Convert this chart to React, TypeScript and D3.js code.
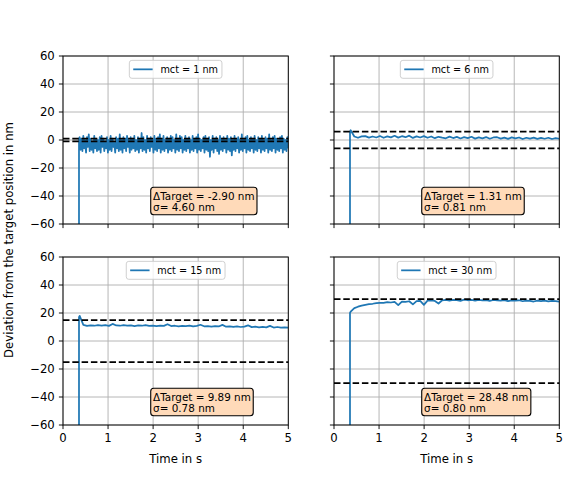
import { useRef, useEffect } from 'react';
import * as d3 from 'd3';

// Sample values, one list per panel (nm)
const mct1Values = [
  2, -7, 1, -8, 3, -6, 0, -9, 2, -5, 4, -8, 1, -7, -1, -9, 3, -6, 1, -8,
  0, -7, 2, -9, 3, -5, 1, -8, -1, -6, 2, -9, 0, -7, 3, -8, 1, -5, -2, -9,
  2, -6, 1, -8, 4, -7, 0, -9, 2, -6, 1, -8, 3, -5, 0, -9, 2, -7, 1, -6,
  3, -8, 0, -7, 2, -9, 1, -6, 5, -8, 2, -7, 0, -9, 3, -6, 1, -8, 2, -5,
  0, -9, 3, -7, 1, -8, 2, -6, 4, -9, 1, -7, 3, -8, 0, -6, 2, -9, 1, -7,
  3, -8, 2, -6, 0, -9, 4, -7, 1, -8, 3, -6, 2, -9, 0, -7, 3, -8, 1, -6,
  2, -9, 0, -7, 3, -8, 1, -6, 2, -9, 4, -7, 1, -8, 0, -6, 2, -9, 3, -7,
  1, -8, 2, -12, 0, -7, 3, -9, 1, -6, 2, -8, 0, -10, 3, -7, 1, -8, 2, -6,
  0, -9, 3, -7, 1, -8, 2, -11, 0, -7, 3, -8, 1, -6, 2, -9, 0, -7, 4, -8,
  1, -6, 2, -9, 3, -7, 0, -8, 2, -6, 1, -9, 3, -7, 0, -8, 2, -6, 1, -9,
  3, -7, 0, -8, 2, -6, 1, -9, 4, -7, 0, -8, 2, -6, 3, -9, 1, -7, 0, -8,
  2, -6, 3, -9, 1, -7, 0, -8, 2, -6,
];
const mct6Values = [
  7, 2.5, 1.6, 2.6, 2.8, 1.7, 2.5, 1.8, 2.9, 1.6,
  2.6, 1.9, 3.0, 1.7, 2.7, 2.0, 3.1, 1.5, 2.6, 1.8,
  2.8, 1.6, 2.5, 1.3, 2.3, 1.7, 1.2, 2.4, 1.4, 2.2,
  1.1, 2.0, 1.3, 2.3, 1.0, 1.9, 1.2, 2.1, 0.9, 1.8,
  2.0, 1.0, 1.7, 0.8, 1.9, 1.1, 1.8, 0.7, 1.6, 1.0,
  1.7, 0.8, 1.5, 0.9, 1.6, 0.7, 1.4, 0.9,
];
const mct15Values = [
  18, 11.5, 10.8, 11.2, 10.9, 11.4, 11.0, 11.3, 10.8, 12.2,
  11.1, 10.9, 11.3, 11.0, 11.2, 10.7, 11.1, 10.9, 11.4, 10.8,
  11.0, 10.6, 11.0, 10.8, 12.0, 10.7, 10.9, 10.5, 10.8, 10.6,
  11.0, 10.4, 10.8, 11.6, 10.5, 10.7, 10.3, 10.6, 10.4, 11.5,
  10.2, 10.5, 10.1, 10.4, 10.0, 10.3, 11.2, 9.9, 10.2, 9.8,
  10.1, 9.7, 10.8, 9.6, 10.0, 9.5, 9.8, 9.6,
];
const mct30Values = [
  21, 23.5, 24.5, 25.3, 25.8, 26.3, 26.6, 27.0, 27.3, 27.2,
  27.7, 27.5, 28.0, 25.6, 28.2, 27.9, 28.4, 26.2, 28.5, 28.7,
  25.8, 28.8, 29.0, 28.6, 26.8, 29.1, 29.3, 28.9, 29.4, 29.2,
  28.7, 29.5, 29.1, 29.3, 28.8, 29.4, 29.0, 29.2, 28.6, 29.3,
  29.1, 28.9, 29.2, 28.5, 29.0, 28.8, 29.1, 28.4, 28.9, 28.7,
  28.2, 28.8, 28.5, 28.9, 28.3, 28.6, 28.4, 28.2,
];

const panelValues = [mct1Values, mct6Values, mct15Values, mct30Values];
const legendLabels = ['mct = 1 nm', 'mct = 6 nm', 'mct = 15 nm', 'mct = 30 nm'];
const bandLimits = [1, 6, 15, 30];
const deltaTargets = ['-2.90', '1.31', '9.89', '28.48'];
const sigmas = ['4.60', '0.81', '0.78', '0.80'];

const onsetTime = 0.355; // step starts here, trace comes up from below -60
const firstSample = 0.37;
const endTime = 5;

const xTicks = [0, 1, 2, 3, 4, 5];
const yTicks = [-60, -40, -20, 0, 20, 40, 60];

const FONT = 'DejaVu Sans, sans-serif';
const BLUE = '#1f77b4';

export default function App() {
  const svgRef = useRef<SVGSVGElement>(null);

  useEffect(() => {
    if (!svgRef.current) return;
    document.body.style.margin = '0';
    const svg = d3.select(svgRef.current);
    svg.selectAll('*').remove();

    const pw = 225.3;
    const ph = 168;
    const panels = [
      { left: 63, top: 56 },
      { left: 334, top: 56 },
      { left: 63, top: 257 },
      { left: 334, top: 257 },
    ];

    const tickFs = 11.7;
    const smallFs = 9.7;
    const annFs = 10.4;

    const defs = svg.append('defs');

    panels.forEach((p, i) => {
      const x = d3.scaleLinear().domain([0, 5]).range([p.left, p.left + pw]);
      const y = d3.scaleLinear().domain([-60, 60]).range([p.top + ph, p.top]);
      const isBottom = i >= 2;
      const isLeft = i % 2 === 0;

      defs.append('clipPath').attr('id', `clip${i}`)
        .append('rect').attr('x', p.left).attr('y', p.top).attr('width', pw).attr('height', ph);

      const g = svg.append('g');

      // grid
      g.selectAll('.gx').data(xTicks).enter().append('line')
        .attr('x1', d => x(d)).attr('x2', d => x(d))
        .attr('y1', p.top).attr('y2', p.top + ph)
        .attr('stroke', '#b0b0b0').attr('stroke-width', 0.93);
      g.selectAll('.gy').data(yTicks).enter().append('line')
        .attr('y1', d => y(d)).attr('y2', d => y(d))
        .attr('x1', p.left).attr('x2', p.left + pw)
        .attr('stroke', '#b0b0b0').attr('stroke-width', 0.93);

      // data trace
      const vals = panelValues[i];
      const dt = (endTime - firstSample) / (vals.length - 1);
      const pts: [number, number][] = [[onsetTime, -70], [onsetTime, vals[0] - 1]];
      vals.forEach((v, k) => pts.push([firstSample + k * dt, v]));
      const line = d3.line<[number, number]>().x(d => x(d[0])).y(d => y(d[1]));
      g.append('path')
        .attr('d', line(pts))
        .attr('fill', 'none')
        .attr('stroke', BLUE)
        .attr('stroke-width', 1.75)
        .attr('stroke-linejoin', 'round')
        .attr('clip-path', `url(#clip${i})`);

      // tolerance band
      [bandLimits[i], -bandLimits[i]].forEach(b => {
        g.append('line')
          .attr('x1', p.left).attr('x2', p.left + pw)
          .attr('y1', y(b)).attr('y2', y(b))
          .attr('stroke', '#000').attr('stroke-width', 1.75)
          .attr('stroke-dasharray', '6.5,2.8');
      });

      // spines
      g.append('rect')
        .attr('x', p.left).attr('y', p.top).attr('width', pw).attr('height', ph)
        .attr('fill', 'none').attr('stroke', '#000').attr('stroke-width', 0.93);

      // ticks
      g.selectAll('.tx').data(xTicks).enter().append('line')
        .attr('x1', d => x(d)).attr('x2', d => x(d))
        .attr('y1', p.top + ph).attr('y2', p.top + ph + 4.1)
        .attr('stroke', '#000').attr('stroke-width', 0.93);
      g.selectAll('.ty').data(yTicks).enter().append('line')
        .attr('y1', d => y(d)).attr('y2', d => y(d))
        .attr('x1', p.left - 4.1).attr('x2', p.left)
        .attr('stroke', '#000').attr('stroke-width', 0.93);

      if (isBottom) {
        g.selectAll('.lx').data(xTicks).enter().append('text')
          .attr('x', d => x(d)).attr('y', p.top + ph + 8.2 + tickFs * 0.76)
          .attr('text-anchor', 'middle')
          .attr('font-family', FONT).attr('font-size', tickFs)
          .text(d => String(d));
        g.append('text')
          .attr('x', p.left + pw / 2).attr('y', 462.5)
          .attr('text-anchor', 'middle')
          .attr('font-family', FONT).attr('font-size', tickFs)
          .text('Time in s');
      }
      if (isLeft) {
        g.selectAll('.ly').data(yTicks).enter().append('text')
          .attr('x', p.left - 8.2).attr('y', d => y(d))
          .attr('dy', '0.36em')
          .attr('text-anchor', 'end')
          .attr('font-family', FONT).attr('font-size', tickFs)
          .text(d => (d < 0 ? `\u2212${-d}` : String(d)));
      }

      // legend (upper center)
      const legText = g.append('text')
        .attr('font-family', FONT).attr('font-size', smallFs)
        .text(legendLabels[i]);
      const tw = (legText.node() as SVGTextElement).getComputedTextLength();
      const bw = smallFs * (0.4 + 2.0 + 0.8 + 0.4) + tw;
      const bh = smallFs * 0.8 + smallFs * 1.05;
      const bx = p.left + pw / 2 - bw / 2;
      const by = p.top + smallFs * 0.45;
      g.insert('rect', 'text')
        .attr('x', bx).attr('y', by).attr('width', bw).attr('height', bh)
        .attr('rx', 2.5)
        .attr('fill', '#fff').attr('fill-opacity', 0.8)
        .attr('stroke', '#ccc').attr('stroke-width', 0.93);
      g.append('line')
        .attr('x1', bx + smallFs * 0.4).attr('x2', bx + smallFs * 2.4)
        .attr('y1', by + bh / 2).attr('y2', by + bh / 2)
        .attr('stroke', BLUE).attr('stroke-width', 1.75);
      legText.raise()
        .attr('x', bx + smallFs * 3.2)
        .attr('y', by + bh / 2)
        .attr('dy', '0.36em');

      // annotation box, text anchored at (2, -42.9)
      const ax = x(2);
      const base1 = y(-42.86);
      const base2 = base1 + 10.7;
      const ann = g.append('text')
        .attr('font-family', FONT).attr('font-size', annFs)
        .attr('fill', '#000');
      ann.append('tspan').attr('x', ax).attr('y', base1)
        .text(`\u0394Target = ${deltaTargets[i]} nm`);
      ann.append('tspan').attr('x', ax).attr('y', base2)
        .text(`\u03c3= ${sigmas[i]} nm`);
      const bb = (ann.node() as SVGTextElement).getBBox();
      g.insert('rect', () => ann.node() as SVGTextElement)
        .attr('x', ax - 2.4).attr('y', base1 - 12.7)
        .attr('width', bb.width + 4.8).attr('height', base2 + 4 - (base1 - 12.7))
        .attr('rx', 3)
        .attr('fill', '#ffdab9')
        .attr('stroke', '#000').attr('stroke-width', 1.1);
    });

    // shared y label
    svg.append('text')
      .attr('transform', 'translate(12.8,240) rotate(-90)')
      .attr('text-anchor', 'middle')
      .attr('font-family', FONT).attr('font-size', tickFs)
      .text('Deviation from the target position in nm');
  }, []);

  return (
    <svg ref={svgRef} width={571} height={478} style={{ display: 'block', background: '#fff' }} />
  );
}
